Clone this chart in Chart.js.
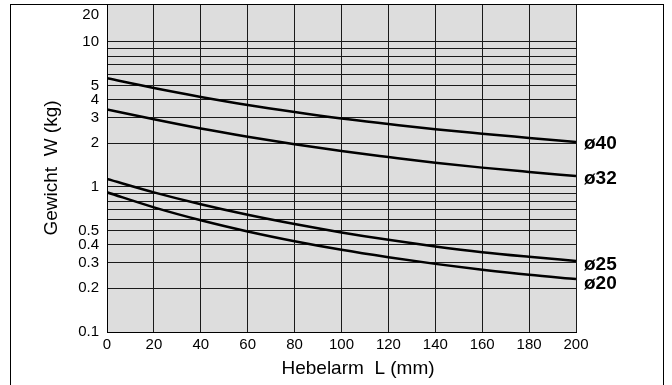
<!DOCTYPE html>
<html lang="de">
<head>
    <meta charset="UTF-8">
    <title>Gewicht / Hebelarm</title>
    <script src="https://cdn.jsdelivr.net/npm/chart.js"></script>
    <style>
        html, body { margin: 0; padding: 0; background: #fff; }
        #wrap { width: 672px; height: 385px; }
    </style>
</head>
<body>
    <div id="wrap"><canvas id="chart" width="672" height="385"></canvas></div>

    <script>
        // Data
        const armLength = [0, 20, 40, 60, 80, 100, 120, 140, 160, 180, 200];
        const w40 = [5.62, 4.81, 4.18, 3.68, 3.29, 2.97, 2.72, 2.50, 2.33, 2.18, 2.04];
        const w32 = [3.43, 2.93, 2.53, 2.22, 1.97, 1.77, 1.61, 1.47, 1.36, 1.27, 1.19];
        const w25 = [1.136, 0.918, 0.760, 0.643, 0.555, 0.486, 0.432, 0.389, 0.355, 0.330, 0.309];
        const w20 = [0.919, 0.724, 0.590, 0.494, 0.423, 0.369, 0.328, 0.295, 0.269, 0.248, 0.232];
        const seriesLabels = ['ø40', 'ø32', 'ø25', 'ø20'];
        const yGridValues = [0.1, 0.2, 0.3, 0.4, 0.5, 0.6, 0.7, 0.8, 0.9, 1, 2, 3, 4, 5, 6, 7, 8, 9, 10];
        const yLabelled = [0.1, 0.2, 0.3, 0.4, 0.5, 1, 2, 3, 4, 5, 10];
        const yTopLabel = '20';
        const xTitle = 'Hebelarm  L (mm)';

        const FONT = "'Liberation Sans', Arial, sans-serif";
        const labelNudge = [2, 3, 4, 5];

        const toPoints = arr => arr.map((v, i) => ({ x: armLength[i], y: v }));

        const frameAndLabels = {
            id: 'frameAndLabels',
            beforeDraw(chart) {
                const { ctx, chartArea: a } = chart;
                ctx.save();
                ctx.fillStyle = '#dddddd';
                ctx.fillRect(a.left, a.top, a.right - a.left, a.bottom - a.top);
                ctx.restore();
            },
            afterDraw(chart) {
                const { ctx, chartArea: a } = chart;
                ctx.save();
                // outer frame
                ctx.strokeStyle = '#000';
                ctx.lineWidth = 1;
                ctx.strokeRect(10.5, 4.5, 653, 400);
                ctx.fillStyle = '#000';
                // top "20" label of the y axis
                ctx.font = '15px ' + FONT;
                ctx.textAlign = 'right';
                ctx.textBaseline = 'middle';
                ctx.fillText(yTopLabel, a.left - 8, a.top + 11);
                // x axis title (sits a bit right of centre in the original)
                ctx.font = '19px ' + FONT;
                ctx.textAlign = 'center';
                ctx.fillText(xTitle, 358, 369);
                // series labels at the line ends
                ctx.font = 'bold 19px ' + FONT;
                ctx.textAlign = 'left';
                chart.data.datasets.forEach((ds, i) => {
                    const pts = chart.getDatasetMeta(i).data;
                    const last = pts[pts.length - 1];
                    ctx.fillText(seriesLabels[i], a.right + 8, last.y + labelNudge[i]);
                });
                ctx.restore();
            }
        };

        const lineStyle = {
            borderColor: '#000',
            borderWidth: 2.5,
            pointRadius: 0,
            fill: false,
            cubicInterpolationMode: 'monotone'
        };

        new Chart(document.getElementById('chart'), {
            type: 'line',
            data: {
                datasets: [
                    { label: seriesLabels[0], data: toPoints(w40), ...lineStyle },
                    { label: seriesLabels[1], data: toPoints(w32), ...lineStyle },
                    { label: seriesLabels[2], data: toPoints(w25), ...lineStyle },
                    { label: seriesLabels[3], data: toPoints(w20), ...lineStyle }
                ]
            },
            options: {
                responsive: false,
                animation: false,
                layout: { padding: { left: 10, top: 4, right: 96, bottom: 0 } },
                plugins: {
                    legend: { display: false },
                    tooltip: { enabled: false }
                },
                scales: {
                    x: {
                        type: 'linear',
                        min: 0,
                        max: 200,
                        border: { color: '#000', width: 1 },
                        grid: { color: '#1a1a1a', drawTicks: false },
                        ticks: {
                            stepSize: 20,
                            color: '#000',
                            padding: 4,
                            maxRotation: 0,
                            font: { family: FONT, size: 15 }
                        },
                        afterFit(scale) {
                            scale.height = 53;
                            scale.paddingLeft = 0;
                            scale.paddingRight = 0;
                        }
                    },
                    y: {
                        type: 'logarithmic',
                        min: 0.1,
                        max: 18.28,
                        bounds: 'data',
                        border: { color: '#000', width: 1 },
                        grid: { color: '#1a1a1a', drawTicks: false },
                        afterBuildTicks(scale) {
                            scale.ticks = yGridValues.map(v => ({ value: v }));
                        },
                        ticks: {
                            autoSkip: false,
                            color: '#000',
                            padding: 8,
                            font: { family: FONT, size: 15 },
                            callback(value) {
                                return yLabelled.some(v => Math.abs(v - value) < 1e-9) ? String(value) : '';
                            }
                        },
                        title: {
                            display: true,
                            text: 'Gewicht  W (kg)',
                            color: '#000',
                            font: { family: FONT, size: 19 },
                            padding: { top: 30, bottom: 0 }
                        },
                        afterFit(scale) {
                            scale.width = 97;
                            scale.paddingTop = 0;
                            scale.paddingBottom = 0;
                        }
                    }
                }
            },
            plugins: [frameAndLabels]
        });
    </script>
</body>
</html>
